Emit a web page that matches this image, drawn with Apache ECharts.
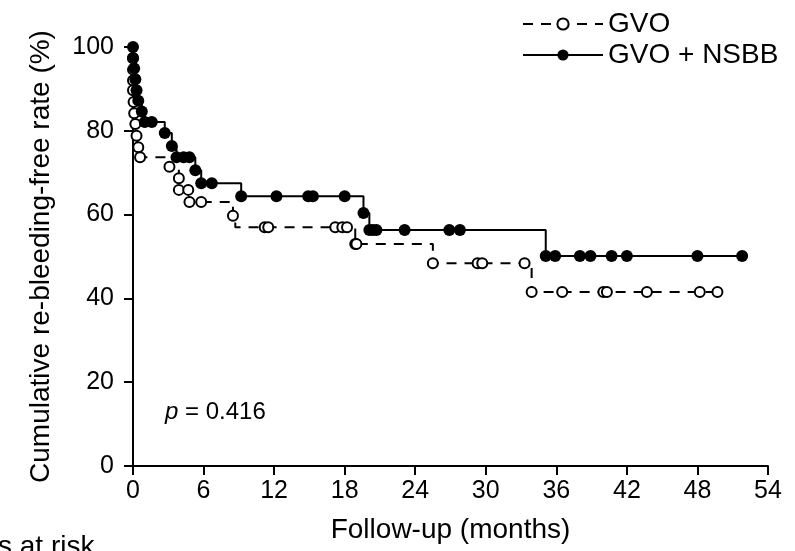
<!DOCTYPE html>
<html>
<head>
<meta charset="utf-8">
<script src="https://cdn.jsdelivr.net/npm/echarts@6/dist/echarts.min.js"></script>
<style>
html,body{margin:0;padding:0;background:#fff;}
#chart{width:795px;height:551px;}
</style>
</head>
<body>
<div id="chart"></div>
<script>
// ---- data (months, % re-bleeding-free) ----
var gvoTime  = [0, 0, 0, 0, 0, 0.05, 0.1, 0.2, 0.3, 0.45, 0.6, 3.1, 3.9, 3.9, 4.7, 4.8, 5.8, 8.5, 8.7, 11.2, 11.5, 17.2, 17.8, 18.2, 18.9, 19.0, 25.5, 29.3, 29.7, 33.3, 33.9, 36.5, 40.0, 40.3, 43.7, 48.2, 49.7];
var gvoValue = [100, 97.3, 94.6, 92.0, 89.7, 86.9, 84.2, 81.6, 78.8, 76.1, 73.7, 71.4, 68.7, 65.9, 65.9, 63.0, 63.0, 59.7, 57.0, 57.0, 57.0, 57.0, 57.0, 57.0, 53.0, 53.0, 48.4, 48.4, 48.4, 48.4, 41.5, 41.5, 41.5, 41.5, 41.5, 41.5, 41.5];
var gvoNoMark = [0, 18]; // indices drawn without a marker

var nsbbTime  = [0, 0, 0.1, 0.2, 0.3, 0.45, 0.75, 1.0, 1.6, 2.7, 3.3, 3.7, 4.3, 4.8, 5.3, 5.8, 6.7, 9.2, 12.2, 14.9, 15.3, 18.0, 19.6, 20.1, 20.4, 20.7, 23.1, 26.9, 27.8, 35.1, 35.9, 38.0, 38.9, 40.7, 42.0, 48.0, 51.8];
var nsbbValue = [100, 97.4, 94.9, 92.3, 89.7, 87.2, 84.6, 82.1, 82.1, 79.5, 76.4, 73.7, 73.7, 73.7, 70.6, 67.5, 67.5, 64.4, 64.4, 64.4, 64.4, 64.4, 60.4, 56.3, 56.3, 56.3, 56.3, 56.3, 56.3, 50.1, 50.1, 50.1, 50.1, 50.1, 50.1, 50.1, 50.1];

var seriesNames = ['GVO', 'GVO + NSBB'];
var xTicks = [0, 6, 12, 18, 24, 30, 36, 42, 48, 54];
var yTicks = [0, 20, 40, 60, 80, 100];
var pText = '0.416';

var FONT = "'Liberation Sans', Arial, sans-serif";

function build(t, v, noMark) {
  var out = [];
  for (var i = 0; i < t.length; i++) {
    var item = { value: [t[i], v[i]] };
    if (noMark && noMark.indexOf(i) >= 0) item.symbol = 'none';
    out.push(item);
  }
  return out;
}

var chart = echarts.init(document.getElementById('chart'), null, { renderer: 'canvas' });
chart.setOption({
  animation: false,
  backgroundColor: '#fff',
  grid: { left: 133, right: 27, top: 47, bottom: 85 },
  legend: {
    data: seriesNames,
    orient: 'vertical',
    left: 517,
    top: 5,
    itemWidth: 80,
    itemHeight: 14,
    itemGap: 3,
    textStyle: { fontSize: 28, fontFamily: FONT, color: '#000', lineHeight: 28 }
  },
  xAxis: {
    type: 'value',
    min: xTicks[0], max: xTicks[xTicks.length - 1], interval: 6,
    name: 'Follow-up (months)',
    nameLocation: 'middle',
    nameGap: 50,
    nameTextStyle: { fontSize: 28, fontFamily: FONT, color: '#000' },
    axisLine: { show: true, lineStyle: { color: '#000', width: 2 } },
    axisTick: { show: true, length: 9, lineStyle: { color: '#000', width: 2 } },
    axisLabel: { fontSize: 25, fontFamily: FONT, color: '#000', margin: 13 },
    splitLine: { show: false }
  },
  yAxis: {
    type: 'value',
    min: yTicks[0], max: yTicks[yTicks.length - 1], interval: 20,
    name: 'Cumulative re-bleeding-free rate (%)',
    nameLocation: 'middle',
    nameGap: 78,
    nameTextStyle: { fontSize: 28, fontFamily: FONT, color: '#000' },
    axisLine: { show: true, lineStyle: { color: '#000', width: 2 } },
    axisTick: { show: true, length: 9, lineStyle: { color: '#000', width: 2 } },
    axisLabel: { fontSize: 25, fontFamily: FONT, color: '#000', margin: 19 },
    splitLine: { show: false }
  },
  graphic: [
    {
      type: 'text', left: 165, top: 400,
      style: {
        text: '{i|p} = ' + pText,
        rich: { i: { fontStyle: 'italic', fontSize: 24, fontFamily: FONT, fill: '#000' } },
        fontSize: 24, fontFamily: FONT, fill: '#000'
      }
    },
    {
      type: 'text', left: -2, top: 533,
      style: { text: 's at risk', fontSize: 28, fontFamily: FONT, fill: '#000' }
    }
  ],
  series: [
    {
      name: seriesNames[0],
      type: 'line',
      step: 'end',
      data: build(gvoTime, gvoValue, gvoNoMark),
      symbol: 'emptyCircle',
      symbolSize: 10,
      showAllSymbol: true,
      color: '#000',
      lineStyle: { color: '#000', width: 2, type: [10, 8] },
      itemStyle: { color: '#000', borderColor: '#000', borderWidth: 2 },
      z: 2
    },
    {
      name: seriesNames[1],
      type: 'line',
      step: 'end',
      data: build(nsbbTime, nsbbValue),
      symbol: 'circle',
      symbolSize: 12,
      showAllSymbol: true,
      color: '#000',
      lineStyle: { color: '#000', width: 2, type: 'solid' },
      itemStyle: { color: '#000' },
      z: 3
    }
  ]
});
</script>
</body>
</html>
